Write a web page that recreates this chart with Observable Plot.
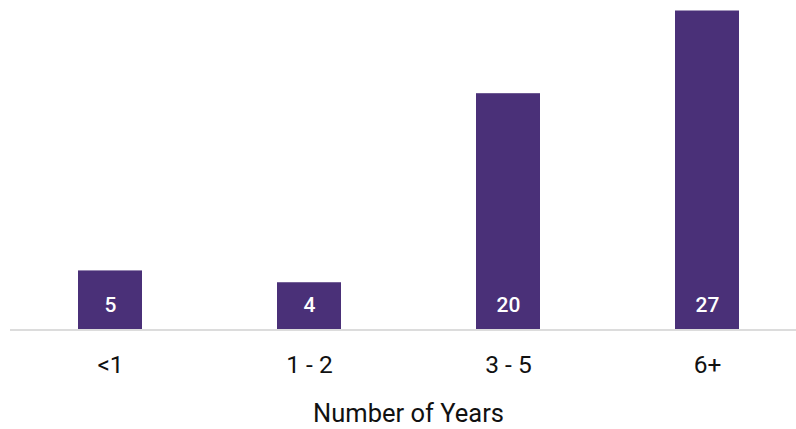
<!DOCTYPE html>
<html><head><meta charset="utf-8">
<script src="https://cdn.jsdelivr.net/npm/d3@7"></script>
<script src="https://cdn.jsdelivr.net/npm/@observablehq/plot@0.6"></script>
<style>body{margin:0;background:#fff;font-family:Roboto,sans-serif}</style>
</head><body><div id="chart"></div>
<script>
const categories = ["<1", "1 - 2", "3 - 5", "6+"];
const counts = [5, 4, 20, 27];
const data = categories.map((c, i) => ({category: c, count: counts[i]}));

const chart = Plot.plot({
  width: 796,
  height: 429,
  marginTop: 0, marginBottom: 0, marginLeft: 0, marginRight: 0,
  style: {fontFamily: "Roboto, sans-serif", background: "#fff"},
  x: {domain: categories, range: [9, 807], paddingInner: 0.68, paddingOuter: 0.34, axis: null},
  y: {domain: [0, 27], range: [329.5, 10.5], axis: null},
  marks: [
    Plot.barY(data, {x: "category", y: "count", fill: "#4a3078"}),
    Plot.ruleY([0], {stroke: "#dcdcdc", strokeWidth: 2, insetLeft: 10}),
    Plot.text(data, {x: "category", y: 0, text: d => String(d.count), fill: "#fff", fontSize: 21, fontWeight: 500, dy: -24.5}),
    Plot.text(data, {x: "category", y: 0, text: "category", fill: "#111", fontSize: 24.5, dy: 35}),
    Plot.text(["Number of Years"], {frameAnchor: "bottom", lineAnchor: "bottom", text: d => d, fill: "#111", fontSize: 25.5, dx: 10, dy: -8})
  ]
});
document.getElementById("chart").appendChild(chart);
</script></body></html>
